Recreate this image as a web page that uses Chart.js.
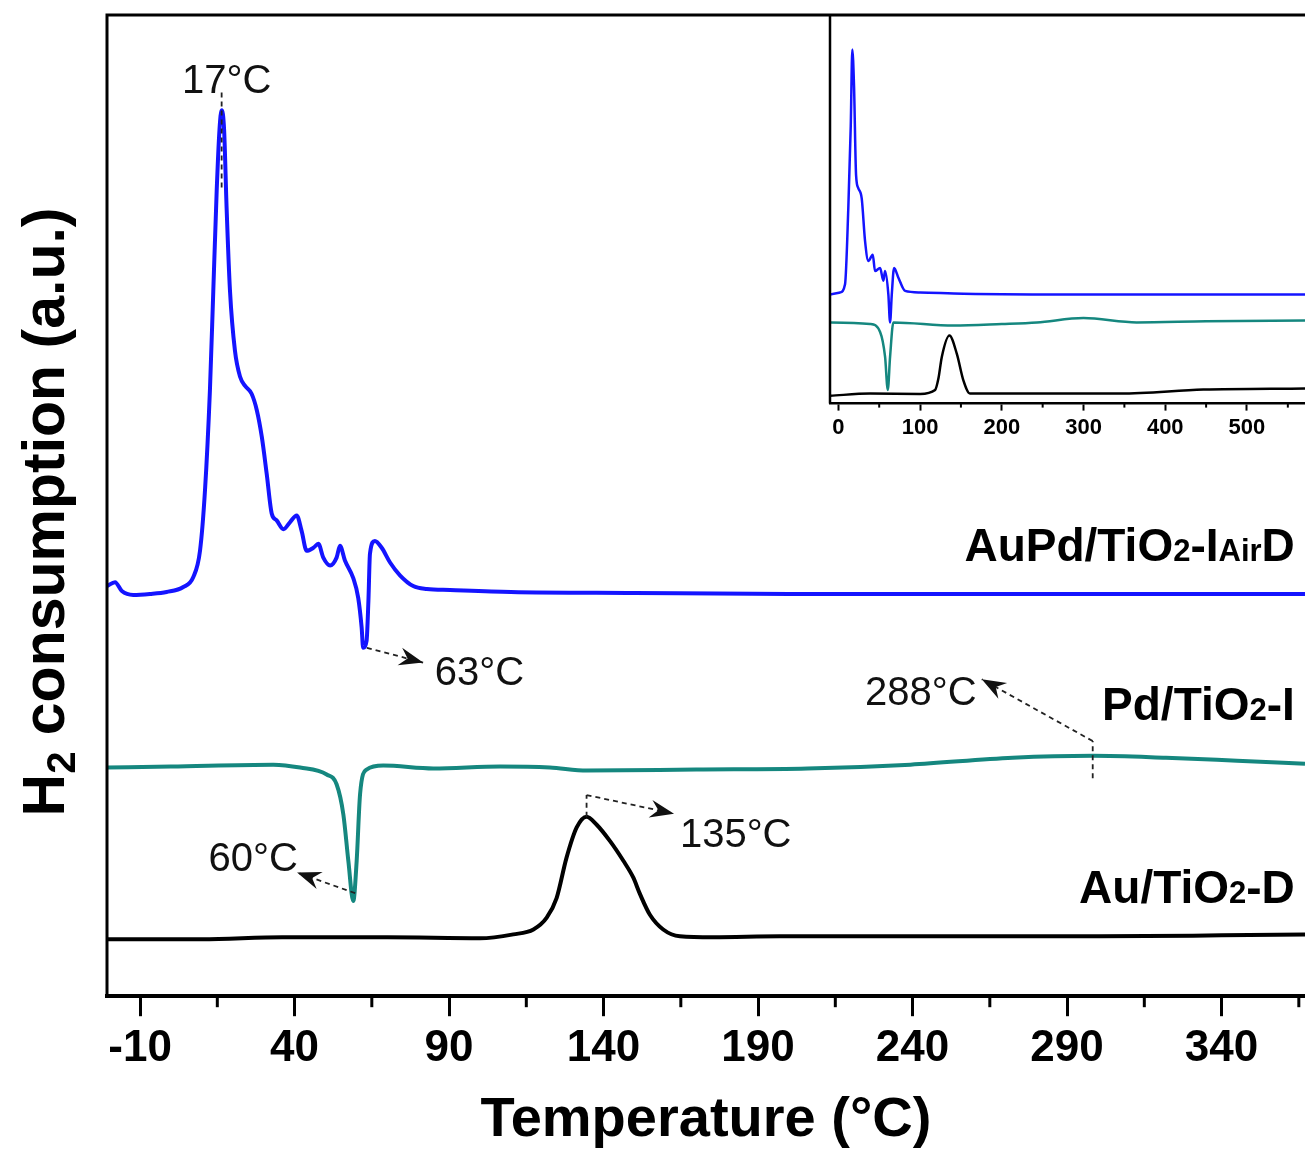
<!DOCTYPE html>
<html>
<head>
<meta charset="utf-8">
<script src="https://cdn.jsdelivr.net/npm/chart.js@4.4.1/dist/chart.umd.min.js"></script>
<style>
body { margin: 0; background: #fff; }
#wrap { position: relative; width: 1305px; height: 1149px; overflow: hidden; }
#main { position: absolute; left: 0; top: 0; }
#inset { position: absolute; left: 780px; top: 0; }
</style>
</head>
<body>
<div id="wrap">
<canvas id="main" width="1305" height="1149"></canvas>
<canvas id="inset" width="525" height="460"></canvas>
</div>
<script>
// main plot data (temperature in C, signal in a.u. with offsets as in the figure)
var blueT = [-20.6, -18.1, -15.9, -12.2, -6.8, -1.4, 4.0, 7.2, 9.4, 11.0, 12.6, 13.7, 14.8, 15.7, 16.4, 17.2, 18.0, 19.1, 20.7, 22.4, 24.0, 26.1, 27.8, 29.4, 31.0, 32.6, 34.2, 36.4, 38.5, 40.7, 42.3, 43.9, 46.1, 47.7, 49.3, 51.5, 53.6, 54.7, 56.3, 59.0, 60.6, 61.7, 62.2, 63.3, 63.9, 64.4, 66.0, 68.2, 70.9, 74.1, 78.4, 82.8, 90.3, 110, 150, 200, 250, 300, 367];
var blueV = [41.8, 42.2, 41.3, 40.9, 41.0, 41.2, 41.7, 42.7, 45.4, 51.5, 61.7, 71.9, 82.1, 88.3, 90.3, 88.3, 80.4, 71.9, 65.8, 63.1, 62.2, 61.4, 59.7, 57.0, 53.2, 49.2, 48.5, 47.6, 48.3, 49.0, 47.4, 45.4, 45.7, 46.1, 44.7, 43.9, 44.7, 45.9, 44.4, 42.6, 40.6, 37.6, 35.5, 36.2, 40.3, 45.1, 46.4, 45.7, 44.2, 42.9, 41.8, 41.5, 41.4, 41.2, 41.1, 41.0, 41.0, 41.0, 41.0];

var tealT = [-20.7, 0, 33.1, 41.8, 50.4, 53.6, 55.8, 57.4, 59.0, 60.1, 61.2, 63.3, 68.7, 84.9, 106.5, 122.6, 134.6, 170, 206, 239.3, 272.4, 298.3, 322, 345, 367];
var tealV = [23.3, 23.4, 23.6, 23.3, 22.6, 21.6, 18.5, 13.8, 9.7, 13.8, 20.6, 23.1, 23.5, 23.2, 23.4, 23.3, 23.0, 23.1, 23.2, 23.6, 24.3, 24.5, 24.3, 24.0, 23.7];

var blackT = [-20.7, 10, 36, 70, 100, 110.8, 117.3, 121.6, 124.8, 128.0, 131.3, 134.5, 137.7, 142.1, 146.4, 149.6, 151.8, 155.0, 159.3, 164.7, 175.5, 197, 250, 300, 340, 367];
var blackV = [5.8, 5.8, 6.0, 6.0, 5.9, 6.3, 6.8, 8.0, 10.0, 14.1, 17.2, 18.3, 17.5, 15.8, 13.8, 12.1, 10.4, 8.3, 6.8, 6.1, 6.0, 6.1, 6.1, 6.1, 6.2, 6.3];

// inset data (full range)
var inBlueT = [-10.2, 2.1, 8.2, 12.2, 15.2, 17.1, 19.2, 21.7, 24.5, 28.6, 32.7, 36.7, 42.1, 44.9, 51.1, 55.1, 57.2, 61.2, 63.3, 65.4, 68.2, 73.5, 81.7, 100, 153, 300, 450, 571];
var inBlueV = [28.1, 28.6, 30.7, 50.3, 71.5, 91.1, 81.7, 58.8, 55.4, 52.8, 41.8, 36.7, 38.3, 34.1, 34.9, 31.6, 34.1, 28.1, 20.9, 28.1, 34.9, 32.4, 29.0, 28.6, 28.3, 28.1, 28.1, 28.1];
var inTealT = [-10, 38.8, 51.1, 57.2, 60.5, 63.3, 67.4, 140.8, 200, 243, 300, 365, 450, 571];
var inTealV = [20.9, 20.5, 18.4, 12.0, 3.5, 12.0, 20.9, 20.1, 20.5, 20.9, 22.0, 20.9, 21.2, 21.4];
var inBlackT = [-10, 38.8, 100, 118.4, 122.5, 126.6, 135.9, 145, 153, 161, 250, 345, 446.6, 571];
var inBlackV = [2.0, 2.6, 2.5, 3.5, 6.5, 12.0, 17.5, 12.8, 6.0, 2.6, 2.6, 2.6, 3.6, 3.9];

// ticks
var mainTicks = [-10, 15, 40, 65, 90, 115, 140, 165, 190, 215, 240, 265, 290, 315, 340, 365];
var mainMajor = [-10, 40, 90, 140, 190, 240, 290, 340];
var inTicks = [0, 50, 100, 150, 200, 250, 300, 350, 400, 450, 500, 550];
var inMajor = [0, 100, 200, 300, 400, 500];

// texts
var xTitle = "Temperature (°C)";
var yTitleParts = [["H", 0], ["2", 2], [" consumption (a.u.)", 0]];
var seriesLabels = [
  { parts: [["AuPd/TiO", 0], ["2", 1], ["-I", 0], ["Air", 1], ["D", 0]], t: 363.7, v: 44.4 },
  { parts: [["Pd/TiO", 0], ["2", 1], ["-I", 0]], t: 363.7, v: 28.2 },
  { parts: [["Au/TiO", 0], ["2", 1], ["-D", 0]], t: 363.7, v: 9.5 }
];
var peakLabels = [
  { text: "17°C", t: 18.0, v: 92.1, align: "center" },
  { text: "63°C", t: 85.4, v: 31.7, align: "left" },
  { text: "60°C", t: 26.6, v: 12.8, align: "center" },
  { text: "135°C", t: 164.7, v: 15.2, align: "left" },
  { text: "288°C", t: 224.6, v: 29.7, align: "left" }
];
// [t1, v1, t2, v2, arrow at end]
var peakLines = [
  [16.4, 92.1, 16.4, 82.1, false],
  [63.4, 35.5, 81.6, 34.0, true],
  [59.6, 10.5, 40.8, 12.6, true],
  [134.5, 18.3, 134.5, 20.5, false],
  [134.5, 20.5, 162.8, 18.6, true],
  [298.3, 22.2, 298.3, 26.0, false],
  [298.3, 26.0, 262.4, 32.3, true]
];

var FONT = "'Liberation Sans', Arial, sans-serif";
var BLUE = "#1414ff";
var TEAL = "#15877f";

function pts(xs, ys) {
  return xs.map(function (x, i) { return { x: x, y: ys[i] }; });
}

function lineSet(xs, ys, color, w) {
  return {
    data: pts(xs, ys),
    borderColor: color,
    borderWidth: w,
    pointRadius: 0,
    fill: false,
    cubicInterpolationMode: "monotone"
  };
}

function drawParts(ctx, parts, x, y, big, small, align, weight) {
  var w = 0;
  parts.forEach(function (p) {
    ctx.font = weight + " " + (p[1] ? small : big) + "px " + FONT;
    w += ctx.measureText(p[0]).width;
  });
  var cx = align === "right" ? x - w : (align === "center" ? x - w / 2 : x);
  parts.forEach(function (p) {
    ctx.font = weight + " " + (p[1] ? small : big) + "px " + FONT;
    ctx.fillText(p[0], cx, y + (p[1] === 2 ? big * 0.18 : 0));
    cx += ctx.measureText(p[0]).width;
  });
}

function arrowHead(ctx, x1, y1, x2, y2) {
  var a = Math.atan2(y2 - y1, x2 - x1);
  ctx.save();
  ctx.translate(x2, y2);
  ctx.rotate(a);
  ctx.setLineDash([]);
  ctx.beginPath();
  ctx.moveTo(0, 0);
  ctx.lineTo(-24, -9);
  ctx.lineTo(-16, 0);
  ctx.lineTo(-24, 9);
  ctx.closePath();
  ctx.fill();
  ctx.restore();
}

function minorTicks(chart, list, major, len, width) {
  var ctx = chart.ctx, xs = chart.scales.x, b = chart.chartArea.bottom;
  ctx.save();
  ctx.strokeStyle = "#000";
  ctx.lineWidth = width;
  list.forEach(function (v) {
    if (major.indexOf(v) >= 0) return;
    var px = xs.getPixelForValue(v);
    ctx.beginPath();
    ctx.moveTo(px, b);
    ctx.lineTo(px, b + len);
    ctx.stroke();
  });
  ctx.restore();
}

var mainExtras = {
  id: "mainExtras",
  afterDraw: function (chart) {
    var ctx = chart.ctx, ca = chart.chartArea, xs = chart.scales.x, ys = chart.scales.y;
    ctx.save();
    // frame: left and top
    ctx.strokeStyle = "#000";
    ctx.lineWidth = 3;
    ctx.beginPath();
    ctx.moveTo(ca.left, ca.bottom);
    ctx.lineTo(ca.left, ca.top);
    ctx.lineTo(ca.right, ca.top);
    ctx.stroke();
    minorTicks(chart, mainTicks, mainMajor, 11, 3);

    // dashed pointer lines
    ctx.strokeStyle = "#222";
    ctx.fillStyle = "#111";
    ctx.lineWidth = 1.8;
    ctx.setLineDash([5, 4]);
    peakLines.forEach(function (l) {
      var x1 = xs.getPixelForValue(l[0]), y1 = ys.getPixelForValue(l[1]);
      var x2 = xs.getPixelForValue(l[2]), y2 = ys.getPixelForValue(l[3]);
      ctx.beginPath();
      ctx.moveTo(x1, y1);
      ctx.lineTo(x2, y2);
      ctx.stroke();
      if (l[4]) arrowHead(ctx, x1, y1, x2, y2);
    });
    ctx.setLineDash([]);

    // peak temperature labels
    ctx.fillStyle = "#111";
    ctx.textBaseline = "alphabetic";
    peakLabels.forEach(function (p) {
      ctx.font = "40px " + FONT;
      ctx.textAlign = p.align;
      ctx.fillText(p.text, xs.getPixelForValue(p.t), ys.getPixelForValue(p.v));
    });

    // sample labels
    ctx.textAlign = "left";
    ctx.fillStyle = "#000";
    seriesLabels.forEach(function (s) {
      drawParts(ctx, s.parts, xs.getPixelForValue(s.t), ys.getPixelForValue(s.v), 46, 31, "right", "bold");
    });

    // y axis title
    ctx.save();
    ctx.translate(64, 512);
    ctx.rotate(-Math.PI / 2);
    drawParts(ctx, yTitleParts, 0, 0, 59, 40, "center", "bold");
    ctx.restore();
    ctx.restore();
  }
};

var insetExtras = {
  id: "insetExtras",
  afterDraw: function (chart) {
    var ctx = chart.ctx, ca = chart.chartArea;
    ctx.save();
    ctx.strokeStyle = "#000";
    ctx.lineWidth = 2.5;
    ctx.beginPath();
    ctx.moveTo(ca.left, ca.bottom);
    ctx.lineTo(ca.left, ca.top);
    ctx.stroke();
    ctx.restore();
    minorTicks(chart, inTicks, inMajor, 4, 2);
  }
};

new Chart(document.getElementById("main"), {
  type: "line",
  data: {
    datasets: [
      lineSet(blueT, blueV, BLUE, 4),
      lineSet(tealT, tealV, TEAL, 4),
      lineSet(blackT, blackV, "#000", 4)
    ]
  },
  options: {
    responsive: false,
    animation: false,
    layout: { padding: { left: 107, top: 15, right: 0, bottom: 0 } },
    plugins: { legend: { display: false }, tooltip: { enabled: false } },
    scales: {
      x: {
        type: "linear",
        min: -20.7,
        max: 367,
        afterBuildTicks: function (s) { s.ticks = mainTicks.map(function (v) { return { value: v }; }); },
        ticks: {
          autoSkip: false,
          maxRotation: 0,
          padding: 6,
          color: "#000",
          font: { family: FONT, size: 44, weight: "bold" },
          callback: function (v) { return mainMajor.indexOf(v) >= 0 ? String(v) : ""; }
        },
        grid: {
          drawOnChartArea: false,
          tickLength: 20,
          tickWidth: 3,
          tickColor: function (c) { return c.tick && mainMajor.indexOf(c.tick.value) >= 0 ? "#000" : "rgba(0,0,0,0)"; }
        },
        border: { color: "#000", width: 4 },
        title: {
          display: true,
          text: xTitle,
          color: "#000",
          font: { family: FONT, size: 56, weight: "bold", lineHeight: 1 },
          padding: { top: 12, bottom: 0 }
        }
      },
      y: { display: false, min: 0, max: 100 }
    }
  },
  plugins: [mainExtras]
});

new Chart(document.getElementById("inset"), {
  type: "line",
  data: {
    datasets: [
      lineSet(inBlueT, inBlueV, BLUE, 2.5),
      lineSet(inTealT, inTealV, TEAL, 2.5),
      lineSet(inBlackT, inBlackV, "#000", 2.5)
    ]
  },
  options: {
    responsive: false,
    animation: false,
    layout: { padding: { left: 50, top: 15, right: 0, bottom: 15 } },
    plugins: { legend: { display: false }, tooltip: { enabled: false } },
    scales: {
      x: {
        type: "linear",
        min: -10.2,
        max: 571,
        afterBuildTicks: function (s) { s.ticks = inTicks.map(function (v) { return { value: v }; }); },
        ticks: {
          autoSkip: false,
          maxRotation: 0,
          padding: 4,
          color: "#000",
          font: { family: FONT, size: 22, weight: "bold" },
          callback: function (v) { return inMajor.indexOf(v) >= 0 ? String(v) : ""; }
        },
        grid: {
          drawOnChartArea: false,
          tickLength: 7,
          tickWidth: 2,
          tickColor: function (c) { return c.tick && inMajor.indexOf(c.tick.value) >= 0 ? "#000" : "rgba(0,0,0,0)"; }
        },
        border: { color: "#000", width: 2.5 }
      },
      y: { display: false, min: 0, max: 100 }
    }
  },
  plugins: [insetExtras]
});
</script>
</body>
</html>
